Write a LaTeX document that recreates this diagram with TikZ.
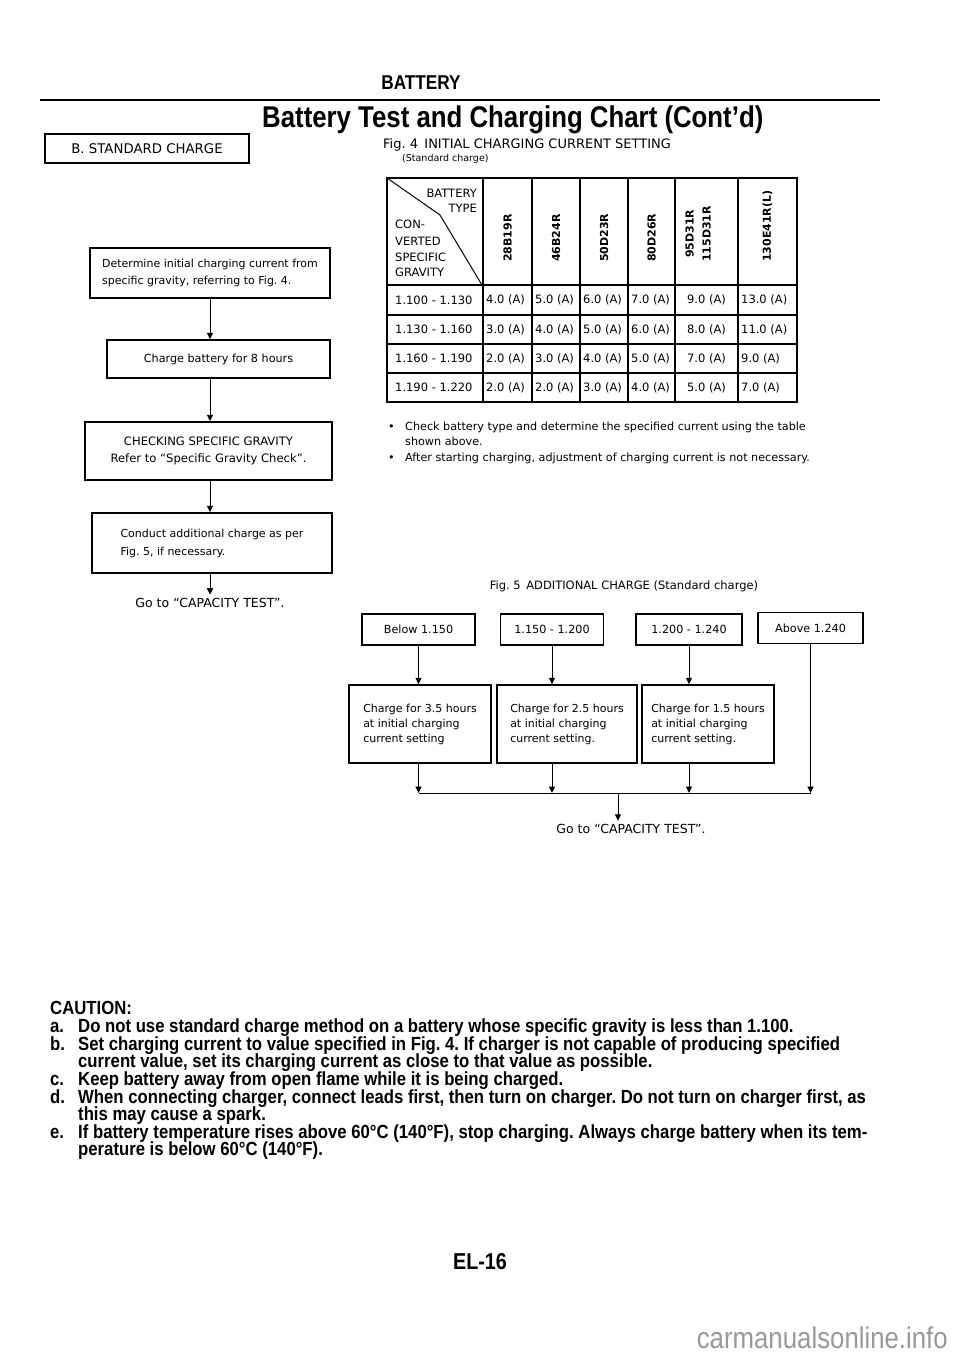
\documentclass[tikz,border=0pt]{standalone}
\usepackage{fontspec}
\setmainfont{DejaVu Sans}
\newfontfamily\condfont{Liberation Sans}[FakeStretch=0.86,Ligatures=TeX]
\newfontfamily\cautfont{Liberation Sans}[FakeStretch=0.88,Ligatures=TeX]
\usetikzlibrary{arrows.meta}
\frenchspacing

\begin{document}
\begin{tikzpicture}[x=1pt, y=-1pt,
  font=\fontsize{11.2}{13}\selectfont,
  box/.style 2 args={draw, line width=1.5pt, minimum width=#1,
               minimum height=#2, inner sep=0pt, align=center},
  flow/.style={line width=1pt, -{Triangle[length=6.5pt,width=6pt]}},
  grid/.style={line width=1.4pt},
  cell/.style={anchor=west, inner sep=0pt, font=\fontsize{11.5}{13}\selectfont},
  colhead/.style={rotate=90, anchor=west, inner sep=0pt, align=center,
               font=\bfseries\fontsize{11}{13}\selectfont},
  caution/.style={anchor=base west, inner sep=0pt,
               font=\cautfont\bfseries\fontsize{19}{19}\selectfont}
]
  \useasboundingbox[fill=white] (0,0) rectangle (960,1358);

  % page head
  \node[font=\condfont\bfseries\fontsize{20}{24}\selectfont] (head) at (421,83) {BATTERY};
  \draw[line width=2.2pt] (40,100) -- (880,100);
  \node[anchor=west, inner sep=0pt, font=\condfont\bfseries\fontsize{30}{32}\selectfont]
    (title) at (262,120) {Battery Test and Charging Chart (Cont'd)};

  % left flow chart
  \node[box={204pt}{29pt}, font=\fontsize{13.3}{15}\selectfont] (std) at (147,148.5) {B. STANDARD CHARGE};
  \node[box={240pt}{50pt}, align=left, font=\fontsize{11}{17}\selectfont] (dtm) at (210,273)
    {Determine initial charging current from\\specific gravity, referring to Fig. 4.};
  \node[box={223pt}{38pt}] (chg) at (218.5,359) {Charge battery for 8 hours};
  \node[box={247pt}{58pt}, font=\fontsize{11.6}{17}\selectfont] (csg) at (208.5,451)
    {CHECKING SPECIFIC GRAVITY\\Refer to ``Specific Gravity Check''.};
  \node[box={240pt}{60pt}, align=left, font=\fontsize{11}{18}\selectfont] (adc) at (212,543)
    {Conduct additional charge as per\\Fig. 5, if necessary.};
  \node[font=\fontsize{12.5}{14}\selectfont] (cap1) at (210,603) {Go to ``CAPACITY TEST''.};

  \draw[flow] (dtm.south) -- (dtm.south |- chg.north);
  \draw[flow] (dtm.south |- chg.south) -- (dtm.south |- csg.north);
  \draw[flow] (dtm.south |- csg.south) -- (dtm.south |- adc.north);
  \draw[flow] (dtm.south |- adc.south) -- (dtm.south |- cap1.north);

  % Fig. 4
  \node[anchor=base west, inner sep=0pt, font=\fontsize{13}{15}\selectfont] (fig4) at (383,148)
    {Fig. 4\, INITIAL CHARGING CURRENT SETTING};
  \node[anchor=base west, inner sep=0pt, font=\fontsize{9.5}{11}\selectfont] (fig4b) at (402,161)
    {(Standard charge)};

  \draw[grid] (387,178) rectangle (797,402);
  \foreach \y in {285,315,344,373}
    \draw[grid] (387,\y) -- (797,\y);
  \foreach \x in {483,532,580,628,675,738}
    \draw[grid] (\x,178) -- (\x,402);
  \draw[line width=1pt] (387,178) -- (440,215) -- (482,285);

  \node[anchor=east, inner sep=0pt, font=\fontsize{11.5}{13}\selectfont] (bat) at (477,193) {BATTERY};
  \node[anchor=east, inner sep=0pt, font=\fontsize{11.5}{13}\selectfont] (typ) at (477,208) {TYPE};
  \node[cell] (sg1) at (395,224) {CON-};
  \node[cell] (sg2) at (395,241) {VERTED};
  \node[cell] (sg3) at (395,257) {SPECIFIC};
  \node[cell] (sg4) at (395,272) {GRAVITY};

  \node[colhead] (t28) at (507.5,262) {28B19R};
  \node[colhead] (t46) at (556,262) {46B24R};
  \node[colhead] (t50) at (604,262) {50D23R};
  \node[colhead] (t80) at (651.5,262) {80D26R};
  \node[colhead, font=\bfseries\fontsize{11}{17}\selectfont] (t95) at (698,262) {95D31R\\115D31R};
  \node[colhead] (t130) at (767.5,262) {130E41R(L)};

  \foreach \y/\r/\a/\b/\c/\d/\e/\f [count=\i] in {
      300/1.100/1.130/4.0/5.0/6.0/7.0/9.0, 329.5/1.130/1.160/3.0/4.0/5.0/6.0/8.0,
      358.5/1.160/1.190/2.0/3.0/4.0/5.0/7.0, 387.5/1.190/1.220/2.0/2.0/3.0/4.0/5.0}{
    \node[cell] (g\i) at (395,\y) {\r\ - \a};
    \node[cell] (a\i) at (486,\y) {\b\ (A)};
    \node[cell] (b\i) at (535,\y) {\c\ (A)};
    \node[cell] (c\i) at (583,\y) {\d\ (A)};
    \node[cell] (d\i) at (631,\y) {\e\ (A)};
    \node[cell, anchor=center] (e\i) at (706.5,\y) {\f\ (A)};
  }
  \node[cell] (f1) at (741,300) {13.0 (A)};
  \node[cell] (f2) at (741,329.5) {11.0 (A)};
  \node[cell] (f3) at (741,358.5) {9.0 (A)};
  \node[cell] (f4) at (741,387.5) {7.0 (A)};

  \node[anchor=base west, inner sep=0pt] (dot1) at (388,430) {\textbullet};
  \node[anchor=base west, inner sep=0pt] (note1) at (405,430)
    {Check battery type and determine the specified current using the table};
  \node[anchor=base west, inner sep=0pt] (note1b) at (405,445) {shown above.};
  \node[anchor=base west, inner sep=0pt] (dot2) at (388,461) {\textbullet};
  \node[anchor=base west, inner sep=0pt] (note2) at (405,461)
    {After starting charging, adjustment of charging current is not necessary.};

  % Fig. 5
  \node[font=\fontsize{11.5}{13}\selectfont] (fig5) at (624,586) {Fig. 5\, ADDITIONAL CHARGE (Standard charge)};
  \node[box={113pt}{31pt}] (lo1) at (418.5,629.5) {Below 1.150};
  \node[box={103pt}{31pt}] (lo2) at (552,629.5) {1.150 - 1.200};
  \node[box={106pt}{31pt}] (lo3) at (689,629.5) {1.200 - 1.240};
  \node[box={105pt}{31pt}] (lo4) at (810.5,628) {Above 1.240};
  \node[box={142pt}{78pt}, align=left, font=\fontsize{11}{15}\selectfont] (ch1) at (420,724)
    {Charge for 3.5 hours\\at initial charging\\current setting};
  \node[box={140pt}{78pt}, align=left, font=\fontsize{11}{15}\selectfont] (ch2) at (567,724)
    {Charge for 2.5 hours\\at initial charging\\current setting.};
  \node[box={132pt}{78pt}, align=left, font=\fontsize{11}{15}\selectfont] (ch3) at (708,724)
    {Charge for 1.5 hours\\at initial charging\\current setting.};
  \coordinate (bus) at (618,793);
  \node[font=\fontsize{12.5}{14}\selectfont] (cap2) at (631,829) {Go to ``CAPACITY TEST''.};

  \draw[flow] (lo1.south) -- (lo1.south |- ch1.north);
  \draw[flow] (lo2.south) -- (lo2.south |- ch2.north);
  \draw[flow] (lo3.south) -- (lo3.south |- ch3.north);
  \draw[flow] (lo1.south |- ch1.south) -- (lo1.south |- bus);
  \draw[flow] (lo2.south |- ch2.south) -- (lo2.south |- bus);
  \draw[flow] (lo3.south |- ch3.south) -- (lo3.south |- bus);
  \draw[flow] (lo4.south) -- (lo4.south |- bus);
  \draw[line width=1pt] (lo1.south |- bus) -- (lo4.south |- bus);
  \draw[flow] (bus) -- (bus |- cap2.north);

  % caution
  \node[caution] (cau) at (50,1014) {CAUTION:};
  \node[caution] (ka) at (50,1032) {a.};
  \node[caution] (la) at (78,1032) {Do not use standard charge method on a battery whose specific gravity is less than 1.100.};
  \node[caution] (kb) at (50,1050) {b.};
  \node[caution] (lb) at (78,1050) {Set charging current to value specified in Fig. 4. If charger is not capable of producing specified};
  \node[caution] (lb2) at (78,1067) {current value, set its charging current as close to that value as possible.};
  \node[caution] (kc) at (50,1085) {c.};
  \node[caution] (lc) at (78,1085) {Keep battery away from open flame while it is being charged.};
  \node[caution] (kd) at (50,1103) {d.};
  \node[caution] (ld) at (78,1103) {When connecting charger, connect leads first, then turn on charger. Do not turn on charger first, as};
  \node[caution] (ld2) at (78,1120) {this may cause a spark.};
  \node[caution] (ke) at (50,1138) {e.};
  \node[caution] (le) at (78,1138) {If battery temperature rises above 60\textdegree C (140\textdegree F), stop charging. Always charge battery when its tem-};
  \node[caution] (le2) at (78,1155) {perature is below 60\textdegree C (140\textdegree F).};

  \node[font=\condfont\bfseries\fontsize{23}{26}\selectfont] (page) at (480,1262) {EL-16};
  \node[anchor=base east, inner sep=0pt, text=black!40, font=\condfont\fontsize{30}{32}\selectfont]
    (mark) at (948,1348) {carmanualsonline.info};
\end{tikzpicture}
\end{document}
